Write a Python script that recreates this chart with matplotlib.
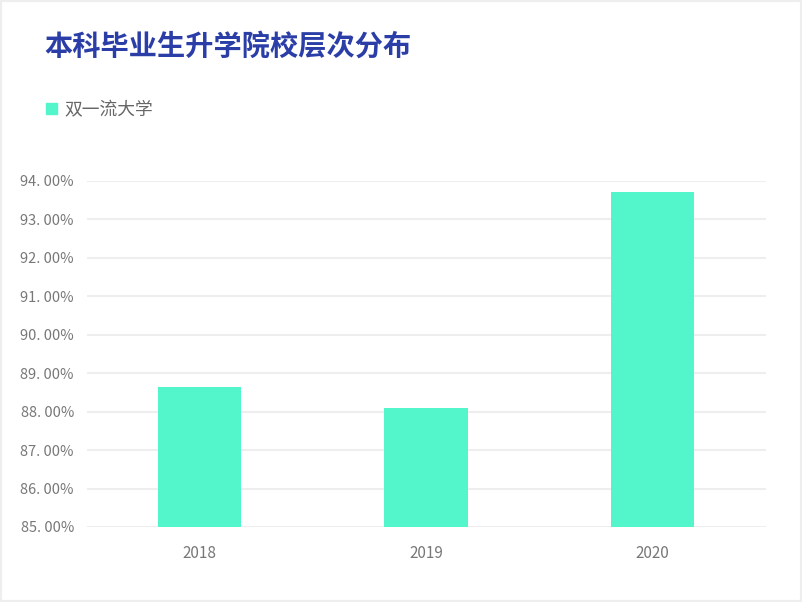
import matplotlib
matplotlib.use("Agg")
import matplotlib.pyplot as plt
from matplotlib.patches import Rectangle

plt.rcParams['font.family'] = ['Noto Sans CJK SC', 'DejaVu Sans']

title = "本科毕业生升学院校层次分布"
series_name = "双一流大学"
categories = ["2018", "2019", "2020"]
values = [88.65, 88.10, 93.71]
yticks = [85, 86, 87, 88, 89, 90, 91, 92, 93, 94]

W, H = 802, 602
fig = plt.figure(figsize=(W / 100, H / 100), dpi=100)
fig.patch.set_facecolor("white")

# outer frame
fig.patches.append(Rectangle((0, 0), 1, 1, transform=fig.transFigure,
                             fill=False, edgecolor="#eeeeee", linewidth=3))

left, right = 86.5 / W, 765.5 / W
bottom, top = 1 - 527 / H, 1 - 181 / H
ax = fig.add_axes([left, bottom, right - left, top - bottom])

bar_color = "#53F5CB"
x = list(range(len(categories)))
ax.bar(x, [v - 85 for v in values], bottom=85, width=0.367, color=bar_color, zorder=3)

ax.set_xlim(-0.5, len(categories) - 0.5)
ax.set_ylim(85, 94)
ax.set_yticks(yticks)
ax.set_yticklabels([f"{t}. 00%" for t in yticks], color="#777777", fontsize=10.5)
ax.set_xticks(x)
ax.set_xticklabels(categories, color="#777777", fontsize=11)
ax.tick_params(axis="both", length=0)
ax.tick_params(axis="y", pad=9)
ax.tick_params(axis="x", pad=13)
ax.grid(axis="y", color="#eeeeee", linewidth=1.5, zorder=0)
for s in ax.spines.values():
    s.set_visible(False)

fig.text(44 / W, 1 - 47 / H, title, fontsize=20.3, fontweight="bold",
         color="#2B3EA8", va="center", ha="left")
fig.patches.append(Rectangle((46 / W, 1 - 114 / H), 11 / W, 11 / H,
                             transform=fig.transFigure, color=bar_color))
fig.text(64 / W, 1 - 110 / H, series_name, fontsize=12.8, fontweight="medium",
         color="#666666", va="center", ha="left")

fig.savefig("out.png", dpi=100, facecolor="white")
